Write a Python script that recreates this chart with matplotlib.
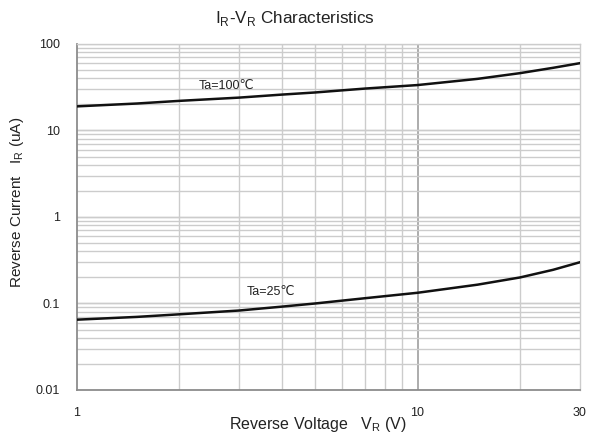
import numpy as np
import matplotlib.pyplot as plt

plt.rcParams['font.family'] = ['Liberation Sans', 'DejaVu Sans']

# Reverse voltage (V)
vr = [1, 1.5, 2, 3, 4, 5, 7, 10, 15, 20, 25, 30]
# Reverse current (uA)
ir_100 = [19, 20.5, 22, 24, 26, 27.5, 30.5, 33.5, 39.5, 46, 53, 60]
ir_25 = [0.065, 0.070, 0.075, 0.083, 0.092, 0.100, 0.115, 0.133, 0.165, 0.20, 0.245, 0.30]

xticks = [1, 10, 30]
yticks = [0.01, 0.1, 1, 10, 100]

fig = plt.figure(figsize=(5.89, 4.38), dpi=100)
ax = fig.add_axes([0.1307, 0.1096, 0.854, 0.790])

ax.set_xscale('log')
ax.set_yscale('log')
ax.set_xlim(1, 30)
ax.set_ylim(0.01, 100)

# grid lines
for v in [2, 3, 4, 5, 6, 7, 8, 9, 20]:
    ax.axvline(v, color='#cccccc', lw=1.0, zorder=1)
ax.axvline(10, color='#a6a6a6', lw=1.3, zorder=1)
for dec in [0.01, 0.1, 1, 10]:
    for m in range(1, 11):
        ax.axhline(dec * m, color='#cccccc', lw=1.0, zorder=1)

ax.plot(vr, ir_100, color='#111111', lw=1.8, zorder=3)
ax.plot(vr, ir_25, color='#111111', lw=1.8, zorder=3)

ax.text(2.75, 33.0, 'Ta=100\u2103', fontsize=9, ha='center', va='center',
        color='#222222', zorder=4)
ax.text(3.7, 0.137, 'Ta=25\u2103', fontsize=9, ha='center', va='center',
        color='#222222', zorder=4)

ax.set_xticks(xticks)
ax.set_xticklabels(['1', '10', '30'])
ax.set_yticks(yticks)
ax.set_yticklabels(['0.01', '0.1', '1', '10', '100'])
ax.minorticks_off()
ax.tick_params(axis='both', length=0, labelsize=9, labelcolor='#222222')
ax.tick_params(axis='x', pad=12)
ax.tick_params(axis='y', pad=12)

for s in ['left', 'bottom']:
    ax.spines[s].set_color('#8c8c8c')
    ax.spines[s].set_linewidth(1.3)
for s in ['top', 'right']:
    ax.spines[s].set_color('#cccccc')
    ax.spines[s].set_linewidth(1.0)

fig.text(0.5, 0.958, r'I$_\mathregular{R}$-V$_\mathregular{R}$ Characteristics',
         ha='center', va='center', fontsize=12.3, color='#222222')
fig.text(0.539, 0.03, r'Reverse Voltage   V$_\mathregular{R}$ (V)',
         ha='center', va='center', fontsize=11.5, color='#222222')
fig.text(0.029, 0.538, r'Reverse Current   I$_\mathregular{R}$ (uA)',
         ha='center', va='center', rotation=90, fontsize=11, color='#222222')

fig.savefig('out.png', dpi=100)
